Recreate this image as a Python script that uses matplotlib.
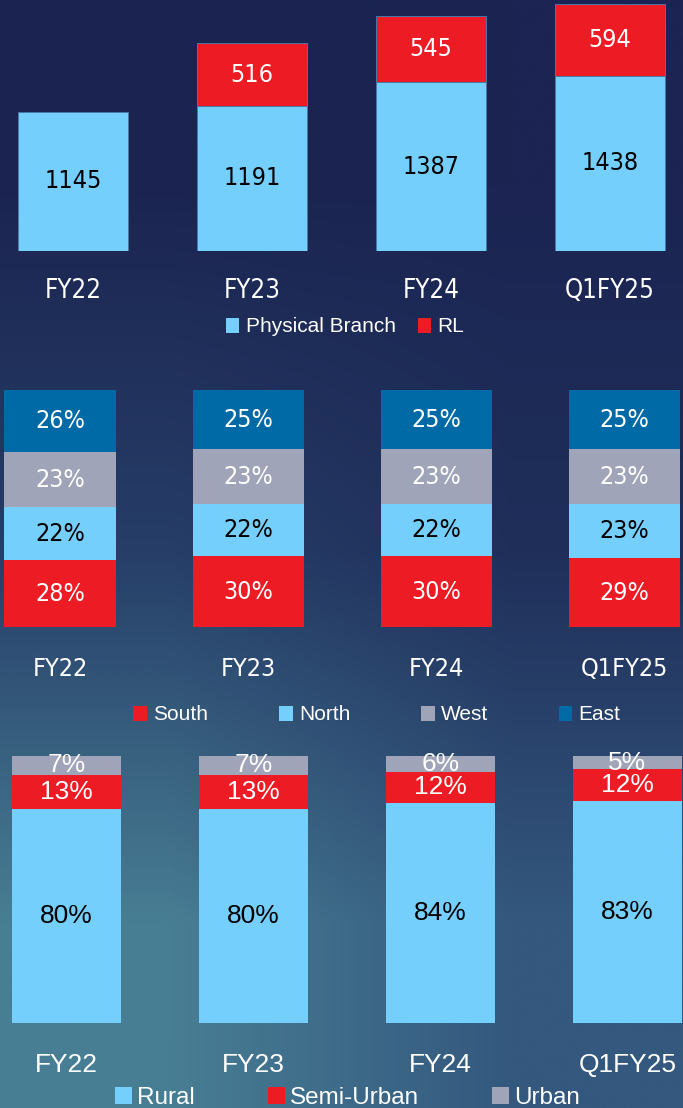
import os
import numpy as np
import matplotlib
matplotlib.use('Agg')
from matplotlib import pyplot as plt
from matplotlib import transforms, font_manager

# DATA
periods = ['FY22', 'FY23', 'FY24', 'Q1FY25']

physical_branch = [1145, 1191, 1387, 1438]
rl = [0, 516, 545, 594]

south = [28, 30, 30, 29]
north = [22, 22, 22, 23]
west = [23, 23, 23, 23]
east = [26, 25, 25, 25]

rural = [80, 80, 84, 83]
semi_urban = [13, 13, 12, 12]
urban = [7, 7, 6, 5]

LIGHT = '#75CFFD'
RED = '#ED1C24'
GRAY = '#A0A4B8'
DARK = '#006AA7'

W, H = 683, 1108


def find_narrow():
    # look for a condensed face on disk, fall back to plain Liberation Sans
    files = {os.path.basename(f.fname): f.fname for f in font_manager.fontManager.ttflist}
    for name in ['LiberationSansNarrow-Regular.ttf', 'DejaVuSansCondensed.ttf']:
        if name in files:
            return dict(fname=files[name])
    for path in font_manager.findSystemFonts():
        base = os.path.basename(path)
        if base in ('LiberationSansNarrow-Regular.ttf', 'DejaVuSansCondensed.ttf'):
            return dict(fname=path)
    return dict(family='Liberation Sans')


NARROW = find_narrow()
REGULAR = dict(family='Liberation Sans')


def fp(spec, size):
    return font_manager.FontProperties(size=size, **spec)


def background(fig):
    bg = fig.add_axes([0, 0, 1, 1], zorder=-10)
    colors = np.array([[[27, 36, 80], [27, 36, 82]],
                       [[38, 62, 104], [31, 47, 90]],
                       [[72, 126, 148], [52, 88, 126]]]) / 255
    bg.imshow(colors, aspect='auto', interpolation='bilinear', extent=[0, 1, 0, 1])
    bg.axis('off')


def make_axes(fig, top_px, bottom_px, first_center, spacing):
    # axes spans the whole width, y from value 0 (bottom_px) to the top value (top_px)
    ax = fig.add_axes([0, 1 - bottom_px / H, 1, (bottom_px - top_px) / H])
    ax.set_xlim(-first_center / spacing, (W - first_center) / spacing)
    ax.axis('off')
    ax.patch.set_visible(False)
    return ax


def category_labels(fig, ax, y_px, font):
    trans = transforms.blended_transform_factory(ax.transData, fig.transFigure)
    for i, p in enumerate(periods):
        ax.text(i, 1 - y_px / H, p, transform=trans, ha='center', va='center',
                color='white', fontproperties=font)


def legend(fig, handles, labels, x_px, y_px, size, colspace, hl, hh, pad):
    fig.legend(handles, labels, loc='center', bbox_to_anchor=(x_px / W, 1 - y_px / H),
               ncol=len(handles), frameon=False, prop=fp(REGULAR, size),
               labelcolor='white', handlelength=hl, handleheight=hh, handletextpad=pad,
               columnspacing=colspace, borderpad=0, borderaxespad=0)


def normalise(*series):
    arr = np.array(series, dtype=float)
    return arr / arr.sum(axis=0) * 100


def main():
    fig = plt.figure(figsize=(W / 100, H / 100), dpi=100)
    background(fig)
    x = np.arange(len(periods))

    # PANEL 1 - branch counts
    ax1 = make_axes(fig, 0, 251, 73, 179)
    ax1.set_ylim(0, 251 / 0.1218)
    b1 = ax1.bar(x, physical_branch, width=0.614, color=LIGHT, edgecolor='#4A78A8', linewidth=0.7)
    b2 = ax1.bar(x, rl, width=0.614, bottom=physical_branch, color=RED, edgecolor='#4A78A8', linewidth=0.7)
    ax1.bar_label(b1, labels=[str(v) for v in physical_branch], label_type='center',
                  color='black', fontproperties=fp(NARROW, 18))
    ax1.bar_label(b2, labels=[str(v) if v else '' for v in rl], label_type='center',
                  color='white', fontproperties=fp(NARROW, 18))
    category_labels(fig, ax1, 291, fp(NARROW, 18.5))
    h1 = ax1.bar(x, [0] * len(x), color=LIGHT)
    h2 = ax1.bar(x, [0] * len(x), color=RED)
    legend(fig, [h1, h2], ['Physical Branch', 'RL'], 345, 327, 15, 1.05, 0.65, 0.7, 0.3)

    # PANEL 2 - regional split
    ax2 = make_axes(fig, 390, 627.3, 60, 188.2)
    ax2.set_ylim(0, 100)
    shares = normalise(south, north, west, east)
    raw = [south, north, west, east]
    colors = [RED, LIGHT, GRAY, DARK]
    text_colors = ['white', 'black', 'white', 'white']
    bottom = np.zeros(len(periods))
    handles = []
    for vals, share, c, tc in zip(raw, shares, colors, text_colors):
        b = ax2.bar(x, share, width=0.59, bottom=bottom, color=c)
        ax2.bar_label(b, labels=[f'{v}%' for v in vals], label_type='center',
                      color=tc, fontproperties=fp(NARROW, 18))
        bottom += share
        handles.append(b)
    category_labels(fig, ax2, 669, fp(NARROW, 18))
    legend(fig, handles, ['South', 'North', 'West', 'East'], 377, 715, 15, 3.4, 0.65, 0.7, 0.3)

    # PANEL 3 - rural / urban split
    ax3 = make_axes(fig, 756, 1023.3, 66.5, 187)
    ax3.set_ylim(0, 100)
    shares = normalise(rural, semi_urban, urban)
    raw = [rural, semi_urban, urban]
    colors = [LIGHT, RED, GRAY]
    text_colors = ['black', 'white', 'white']
    bottom = np.zeros(len(periods))
    handles = []
    for vals, share, c, tc in zip(raw, shares, colors, text_colors):
        b = ax3.bar(x, share, width=0.588, bottom=bottom, color=c)
        ax3.bar_label(b, labels=[f'{v}%' for v in vals], label_type='center',
                      color=tc, fontproperties=fp(REGULAR, 19))
        bottom += share
        handles.append(b)
    category_labels(fig, ax3, 1065, fp(REGULAR, 19))
    legend(fig, handles, ['Rural', 'Semi-Urban', 'Urban'], 347.5, 1098, 17.5, 3.0, 0.7, 0.7, 0.2)

    fig.savefig('out.png', dpi=100)


if __name__ == '__main__':
    main()
